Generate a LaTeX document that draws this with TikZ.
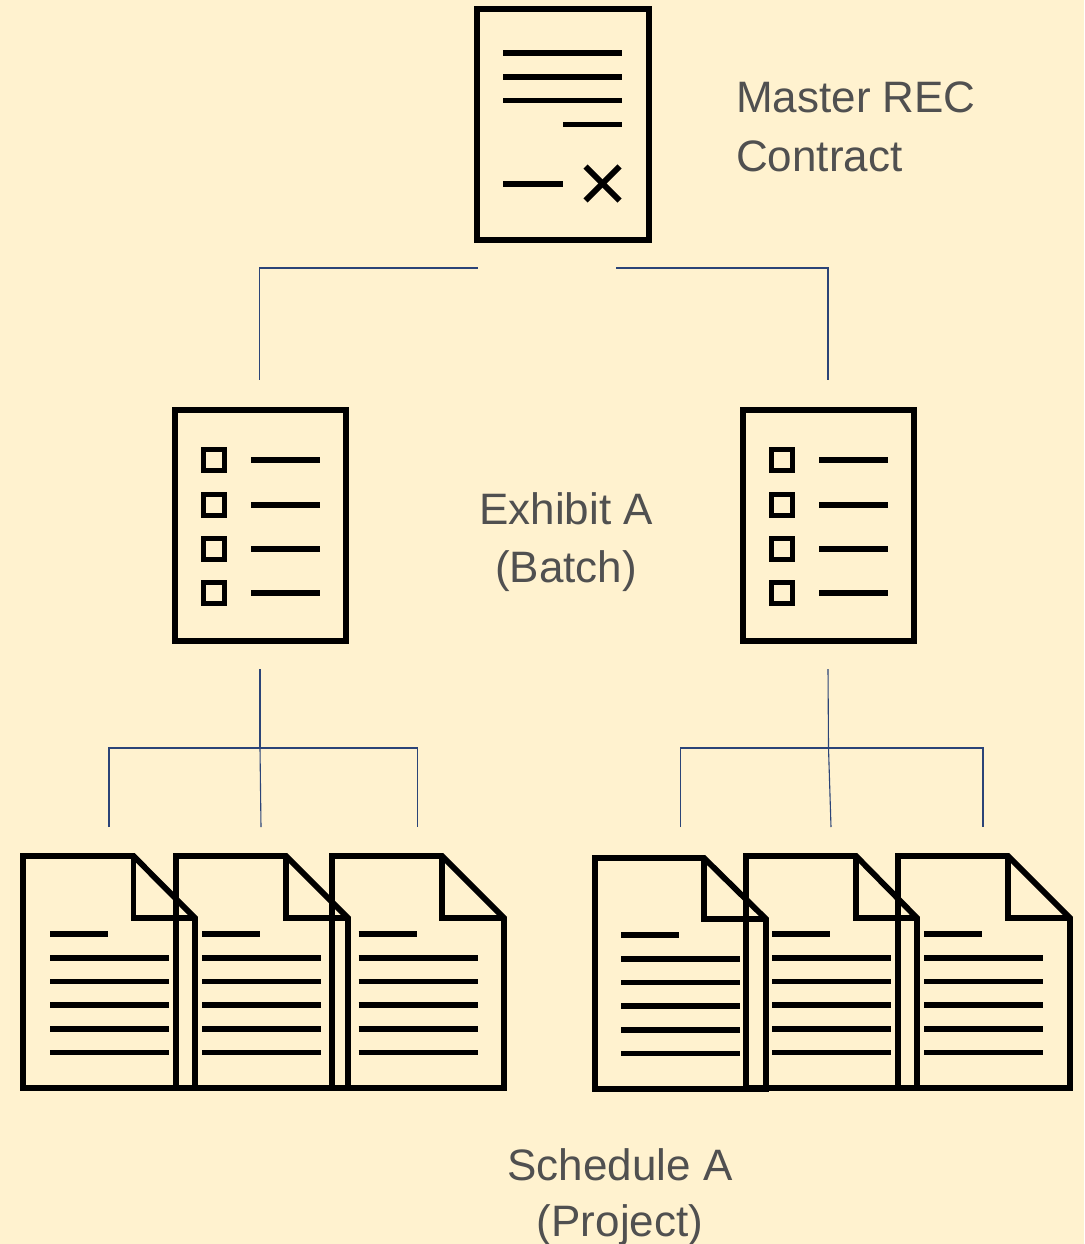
\documentclass[tikz,border=0pt]{standalone}
\usepackage{fontspec}
\setmainfont{Liberation Sans}
\definecolor{bgcream}{HTML}{FFF2CF}
\definecolor{linkblue}{HTML}{2B4478}
\definecolor{labelgrey}{HTML}{505050}
\tikzset{
  icon/.style={draw=black,line width=5.8pt,miter limit=10},
  link/.style={draw=linkblue,line width=1.1pt},
  lbl/.style={text=labelgrey,font=\fontsize{44}{57.5}\selectfont,inner sep=0pt,anchor=base},
}
% #1 left, #2 top, #3 right, #4 bottom (centre lines), #5 fold x, #6 fold y, #7 text x
\newcommand{\pagedoc}[7]{%
  \draw[icon] (#1,#2) -- (#5,#2) -- (#3,#6) -- (#3,#4) -- (#1,#4) -- cycle;
  \draw[icon] (#5,#2) -- (#5,#6) -- (#3,#6);
  \draw[icon] (#7,#6+16) -- ++(58,0);
  \foreach \dy in {40,63.5,87,111,134.5}{\draw[icon] (#7,#6+\dy) -- ++(119,0);}
}
% #1 left edge offset
\newcommand{\checkdoc}[1]{%
  \begin{scope}[xshift=#1pt]
  \draw[icon] (175,410) rectangle (346,641);
  \foreach \yy in {460,505,549,593}{
    \draw[icon] (203.5,\yy-10.5) rectangle (224.5,\yy+10.5);
    \draw[icon] (251,\yy) -- (320,\yy);
  }
  \end{scope}
}
\begin{document}
\begin{tikzpicture}[x=1pt,y=-1pt]
\fill[bgcream] (0,0) rectangle (1084,1244);
\useasboundingbox (0,0) rectangle (1084,1244);

% master contract
\draw[icon] (477,9) rectangle (649,240);
\foreach \yy in {53,77,100.5}{\draw[icon] (503,\yy) -- (622,\yy);}
\draw[icon] (563,124.5) -- (622,124.5);
\draw[icon] (503,184) -- (563,184);
\draw[icon] (585.5,166.5) -- (619.5,200.5);
\draw[icon] (619.5,166.5) -- (585.5,200.5);

% exhibits
\checkdoc{0}
\checkdoc{568}

% schedules
\pagedoc{23}{856}{195}{1088}{133.5}{918}{50}
\pagedoc{176}{856}{348}{1088}{286}{918}{202}
\pagedoc{332}{856}{504}{1088}{442}{918}{358.5}
\pagedoc{595}{858}{766}{1089}{704}{919}{621}
\pagedoc{746}{856}{917}{1088}{856}{918}{772}
\pagedoc{898}{856}{1070}{1088}{1008}{918}{924}

% connector ends
\coordinate (mL) at (477.5,268);
\coordinate (mR) at (616,268);
\coordinate (bL) at (259.5,380);
\coordinate (bR) at (828,380);
\coordinate (bLo) at (260,669);
\coordinate (bRo) at (828,669);
\coordinate (hL) at (260,748);
\coordinate (hR) at (828.5,748);
\coordinate (s1) at (109,827);
\coordinate (s2) at (261,827);
\coordinate (s3) at (417.5,827);
\coordinate (s4) at (680.5,827);
\coordinate (s5) at (831,827);
\coordinate (s6) at (983,827);

\draw[link] (mL) -| (bL);
\draw[link] (mR) -| (bR);
\draw[link] (bLo) -- (hL);
\draw[link] (bRo) -- (hR);
\draw[link] (s1) |- (hL) -| (s3);
\draw[link] (hL) -- (s2);
\draw[link] (s4) |- (hR) -| (s6);
\draw[link] (hR) -- (s5);

% labels
\node[lbl,anchor=base west] (m1) at (736,113) {Master REC};
\node[lbl,anchor=base west] (m2) at (736,171) {Contract};
\node[lbl] (e1) at (566,524) {Exhibit A};
\node[lbl] (e2) at (566,582) {(Batch)};
\node[lbl] (s1t) at (620,1180) {Schedule A};
\node[lbl] (s2t) at (620,1236) {(Project)};
\end{tikzpicture}
\end{document}
